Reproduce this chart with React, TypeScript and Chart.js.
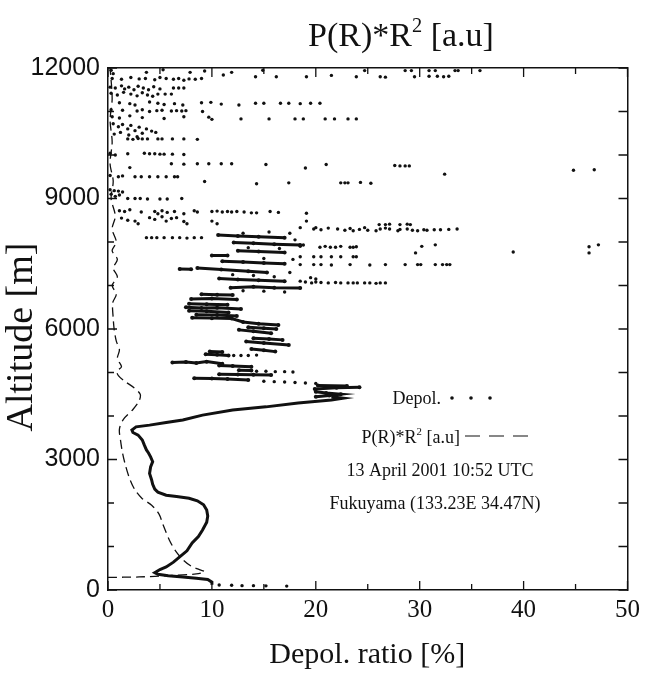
import React, { useEffect, useRef } from "react";
import { Chart, registerables } from "chart.js";

Chart.register(...registerables);

// ---------- data (x = depol ratio %, y = altitude m) ----------
const xTickValues = [0, 10, 20, 30, 40, 50];
const yTickValues = [0, 3000, 6000, 9000, 12000];

// continuous lower depol profile (traced in order)
const depolProfile: [number, number][] = [
  [10.0, 120], [10.0, 180], [9.6, 240], [8.5, 270], [7.2, 300], [5.8, 330], [4.8, 360], [4.5, 400],
  [5.0, 470], [5.6, 530], [6.3, 640], [6.9, 760], [7.6, 900], [8.1, 1080], [8.7, 1230], [9.1, 1380],
  [9.5, 1560], [9.6, 1700], [9.5, 1840], [9.2, 1960], [8.6, 2050], [7.8, 2110], [6.6, 2150], [5.6, 2180],
  [4.8, 2250], [4.5, 2320], [4.3, 2430], [4.2, 2530], [4.0, 2680], [4.1, 2830], [4.3, 2950], [4.1, 3060],
  [3.9, 3150], [3.7, 3220], [3.5, 3330], [3.3, 3450], [2.9, 3560], [2.4, 3620], [2.3, 3680], [2.7, 3750],
  [4.0, 3790], [5.6, 3850], [7.2, 3910], [9.1, 4020], [12.0, 4140], [15.2, 4210], [18.3, 4300],
  [21.5, 4370], [22.6, 4410], [21.5, 4440],
];

// short horizontal streaks of dense depol points (aerosol / cloud layers)
const depolStreaks: [number, number][][] = [
  [[20.0, 4440], [21.3, 4470], [22.4, 4500], [21.0, 4530], [20.0, 4560]],
  [[19.9, 4620], [22.0, 4650], [24.2, 4660]],
  [[20.2, 4700], [23.0, 4690]],
  [[8.3, 4870], [10.0, 4860], [11.5, 4850], [13.5, 4830]],
  [[10.7, 4960], [12.5, 4955], [14.0, 4950], [15.7, 4945]],
  [[12.6, 5050], [13.8, 5045]],
  [[10.7, 5160], [12.0, 5150], [13.8, 5130]],
  [[6.2, 5230], [7.5, 5240], [8.5, 5220], [9.5, 5250], [11.0, 5200]],
  [[9.4, 5420], [10.5, 5410], [11.6, 5390]],
  [[9.8, 5480], [11.0, 5470]],
  [[13.8, 5540], [15.0, 5510], [16.1, 5480]],
  [[13.3, 5710], [15.0, 5680], [17.4, 5630]],
  [[14.0, 5790], [15.5, 5770], [16.8, 5750]],
  [[12.6, 5980], [14.0, 5950], [15.7, 5900]],
  [[13.5, 6040], [15.0, 6020], [16.2, 6000]],
  [[8.1, 6260], [10.0, 6250], [11.9, 6240], [13.0, 6160], [14.5, 6120], [16.4, 6090]],
  [[8.5, 6330], [10.5, 6320], [12.4, 6300]],
  [[7.8, 6420], [9.5, 6410], [11.6, 6380]],
  [[7.5, 6500], [9.0, 6480], [10.5, 6490], [12.8, 6460]],
  [[7.8, 6580], [9.5, 6570], [11.5, 6560]],
  [[8.0, 6690], [10.0, 6700], [12.4, 6680]],
  [[9.0, 6800], [10.5, 6790], [12.0, 6780]],
  [[11.8, 6950], [14.0, 6970], [16.0, 6950], [18.5, 6940]],
  [[10.7, 7160], [12.5, 7140], [14.5, 7120], [17.0, 7100]],
  [[6.9, 7380], [8.0, 7375]],
  [[8.6, 7400], [10.9, 7370], [13.5, 7330], [15.3, 7300]],
  [[11.0, 7560], [13.0, 7540], [15.0, 7520], [17.0, 7500]],
  [[10.0, 7690], [11.5, 7690]],
  [[12.5, 7800], [14.5, 7780], [17.0, 7760]],
  [[12.1, 7990], [14.0, 7970], [16.0, 7950], [18.5, 7930]],
  [[10.6, 8160], [12.5, 8140], [14.5, 8120], [17.0, 8100]],
];

// isolated depol points
const depolDots: [number, number][] = [
  // near ground
  [10.7, 115], [11.9, 110], [12.9, 100], [14.0, 100], [15.2, 95], [17.2, 90],
  // trailing dots of lower layers
  [15.0, 4800], [16.0, 4790], [17.0, 4780], [18.0, 4770], [19.0, 4760], [20.0, 4750],
  [14.3, 5030], [15.2, 5030], [16.1, 5020], [17.0, 5020], [17.8, 5010],
  [12.1, 5390], [12.8, 5390], [13.5, 5390], [14.3, 5400],
  [13.0, 6880], [15.0, 6870], [17.0, 6850], [19.5, 7180], [20.0, 7150],
  [12.0, 7250], [14.0, 7230], [16.0, 7200], [17.5, 7300],
  [15.0, 7620], [17.8, 7600], [13.5, 7870], [16.5, 7850], [18.0, 8050],
  [13.0, 8200], [15.5, 8230], [17.5, 8200],
  // ~7000-7100
  [18.5, 7100], [19.0, 7080], [19.6, 7060], [20.0, 7080], [20.5, 7070], [21.2, 7060], [21.9, 7070],
  [22.4, 7060], [23.1, 7060], [23.6, 7060], [24.0, 7060], [24.7, 7060], [25.2, 7060], [25.8, 7050],
  [26.2, 7060], [26.7, 7060],
  // ~7480
  [18.5, 7480], [19.8, 7480], [20.5, 7480], [21.5, 7470], [23.3, 7480], [25.2, 7470], [26.7, 7480],
  [28.6, 7480], [29.8, 7480], [30.1, 7480], [31.5, 7480], [32.2, 7480], [32.6, 7480], [32.9, 7480],
  // ~7660
  [18.5, 7660], [19.8, 7660], [20.5, 7660], [21.5, 7660], [22.4, 7660], [23.6, 7660], [23.9, 7660],
  // ~7750-7930
  [18.5, 7900], [18.8, 7930], [20.4, 7880], [20.9, 7900], [21.4, 7880], [21.9, 7880], [22.4, 7900],
  [23.3, 7880], [23.6, 7880], [23.9, 7890], [29.6, 7750], [30.2, 7900], [31.5, 7935], [39.0, 7770],
  [46.3, 7890], [47.2, 7935], [46.3, 7750],
  // ~8100
  [3.7, 8100], [4.2, 8100], [4.7, 8100], [5.4, 8100], [6.2, 8100], [6.9, 8100], [7.6, 8090],
  [8.3, 8100], [9.0, 8100],
  // ~8300 (right)
  [18.5, 8330], [19.1, 8480], [19.8, 8300], [20.0, 8330], [20.5, 8280], [21.2, 8320], [22.1, 8300],
  [22.8, 8270], [23.3, 8310], [23.6, 8260], [24.2, 8290], [24.7, 8330], [25.0, 8270], [25.8, 8260],
  [26.2, 8300], [26.7, 8320], [27.1, 8300], [27.9, 8260], [28.1, 8290], [28.8, 8300], [29.3, 8270],
  [29.8, 8260], [30.4, 8280], [30.7, 8270], [31.4, 8280], [32.0, 8280], [32.8, 8290], [33.6, 8300],
  [26.1, 8400], [26.7, 8400], [27.1, 8410], [28.1, 8400], [28.8, 8410], [29.1, 8400],
  // ~8450 (left)
  [1.3, 8550], [1.9, 8500], [2.6, 8480], [2.9, 8420], [4.0, 8560], [4.5, 8520], [5.2, 8580],
  [5.6, 8480], [6.1, 8540], [6.6, 8560], [7.3, 8470], [7.6, 8420], [10.0, 8480], [10.5, 8420],
  // ~8700
  [1.1, 8720], [1.6, 8700], [2.1, 8740], [3.2, 8690], [4.5, 8700], [4.8, 8650], [5.2, 8720],
  [5.7, 8680], [6.4, 8700], [7.3, 8650], [8.3, 8720], [8.6, 8690], [10.0, 8700], [10.5, 8710],
  [11.0, 8690], [11.5, 8700], [11.9, 8690], [12.4, 8700], [13.1, 8690], [13.8, 8670], [14.3, 8670],
  [15.6, 8700], [16.4, 8680], [19.1, 8660],
  // ~9000
  [0.3, 9100], [0.7, 9050], [1.1, 9080], [1.9, 9000], [2.6, 9000], [3.1, 9000], [3.8, 8990],
  [5.0, 8990], [5.7, 8990], [7.1, 9000],
  // ~9180
  [0.2, 9200], [0.6, 9180], [1.0, 9170], [1.4, 9150],
  // ~9370
  [9.3, 9390], [14.3, 9340], [17.4, 9360], [22.4, 9360], [22.8, 9360], [23.1, 9360], [24.3, 9370],
  [25.3, 9350],
  // ~9520
  [0.2, 9530], [1.0, 9500], [1.4, 9520], [2.6, 9500], [3.2, 9500], [4.0, 9500], [4.8, 9500],
  [5.6, 9500], [6.4, 9500], [6.7, 9500],
  // ~9800
  [2.1, 9710], [6.1, 9800], [7.3, 9790], [8.6, 9800], [9.7, 9800], [10.9, 9800], [11.9, 9800],
  [15.2, 9780], [19.0, 9700], [21.0, 9780], [27.6, 9760], [28.1, 9750], [28.6, 9750], [29.0, 9750],
  [32.4, 9560], [44.8, 9650], [46.8, 9660],
  // ~10030
  [0.2, 10040], [0.7, 10000], [1.9, 10030], [3.5, 10040], [4.0, 10030], [4.5, 10030], [5.0, 10020],
  [5.4, 10020], [6.2, 10020], [7.3, 10010],
  // ~10370
  [1.9, 10370], [2.4, 10360], [2.9, 10380], [3.3, 10370], [3.8, 10370], [4.8, 10370], [5.2, 10370],
  [6.2, 10370], [7.3, 10370], [8.6, 10360],
  // cluster 10450-10750
  [0.5, 10720], [1.0, 10650], [1.4, 10700], [1.9, 10600], [2.2, 10680], [2.6, 10560], [3.0, 10640],
  [3.3, 10500], [3.7, 10600], [4.2, 10550], [4.6, 10520], [1.2, 10520], [0.6, 10480], [2.0, 10460],
  [2.8, 10420],
  // ~10850
  [0.4, 10880], [1.1, 10850], [2.1, 10900], [3.3, 10860], [5.4, 10840], [7.3, 10880], [9.7, 10870],
  [10.0, 10820], [12.8, 10830], [15.5, 10830], [18.0, 10830], [18.8, 10830], [20.9, 10830],
  [21.8, 10830], [23.1, 10830], [23.9, 10830],
  // ~11020
  [0.3, 11040], [1.4, 11030], [2.8, 11010], [3.3, 11040], [4.0, 11000], [4.7, 11020], [5.2, 11030],
  [6.1, 11010], [6.6, 11020], [7.1, 11010], [7.5, 11020], [9.1, 11000],
  // ~11180
  [1.1, 11200], [2.1, 11180], [2.6, 11150], [4.0, 11220], [4.8, 11190], [5.4, 11160], [6.4, 11180],
  [7.2, 11150], [9.0, 11200], [9.9, 11210], [10.9, 11170], [12.6, 11150], [14.2, 11190], [15.0, 11190],
  [16.6, 11190], [17.4, 11190], [18.5, 11180], [19.5, 11190], [20.4, 11190],
  // ~11400
  [0.3, 11420], [0.9, 11380], [1.5, 11440], [2.2, 11400], [2.8, 11360], [3.3, 11430], [3.8, 11380],
  [4.3, 11350], [4.8, 11400], [5.5, 11400], [6.1, 11400],
  // ~11550
  [0.2, 11560], [0.7, 11540], [1.3, 11590], [1.6, 11520], [2.0, 11560], [2.5, 11500], [2.9, 11580],
  [3.4, 11540], [3.9, 11500], [4.4, 11570], [5.0, 11520], [6.3, 11540], [6.8, 11540], [7.3, 11540],
  // ~11750
  [0.4, 11760], [1.3, 11740], [2.2, 11780], [3.0, 11750], [3.6, 11760], [4.5, 11730], [5.0, 11780],
  [5.6, 11760], [6.3, 11740], [6.8, 11760], [7.3, 11720], [7.8, 11750], [8.4, 11740], [9.0, 11760],
  // ~11900
  [0.3, 11950], [0.5, 11870], [3.7, 11900], [5.3, 11960], [7.9, 11900], [9.3, 11930], [11.1, 11840],
  [11.9, 11900], [14.2, 11800], [14.9, 11950], [16.2, 11800], [19.1, 11800], [21.5, 11830],
  [23.9, 11800], [24.7, 11940], [26.2, 11800], [26.7, 11790], [28.6, 11940], [29.2, 11940],
  [29.5, 11800], [30.9, 11940], [31.5, 11940], [30.9, 11810], [31.7, 11810], [32.3, 11800],
  [32.8, 11810], [33.4, 11940], [33.7, 11940], [35.8, 11940],
];

// range-corrected signal P(R)*R^2 (arbitrary units on the top axis)
const backscatter: [number, number][] = [
  [0, 290], [3, 300], [6, 330], [8.5, 370], [9.3, 420], [8.8, 470], [8.0, 550], [7.2, 700],
  [6.5, 900], [5.9, 1150], [5.3, 1500], [4.9, 1750], [4.2, 1950], [3.3, 2100], [2.6, 2300],
  [2.1, 2550], [1.7, 2850], [1.4, 3150], [1.2, 3450], [1.1, 3700], [1.5, 3930], [2.4, 4150],
  [3.0, 4350], [3.1, 4500], [2.5, 4650], [1.6, 4800], [1.0, 4930], [0.85, 5030], [1.3, 5130],
  [0.9, 5320], [1.1, 5520], [0.8, 5720], [0.6, 5980], [0.5, 6250], [0.45, 6600], [0.8, 6800],
  [0.4, 7000], [0.9, 7200], [0.5, 7400], [0.9, 7600], [0.4, 7800], [0.8, 8000], [0.4, 8300],
  [0.7, 8600], [0.3, 9000], [0.5, 9400], [0.2, 9800], [0.4, 10300], [0.2, 10800], [0.4, 11300],
  [0.2, 12000],
];

const SERIF = "'Liberation Serif', 'Times New Roman', serif";
const SANS = "'Liberation Sans', Arial, sans-serif";
const INK = "#111";

const toXY = (pts: [number, number][]) => pts.map(([x, y]) => ({ x, y }));

const overlayPlugin = {
  id: "overlay",
  afterDraw(chart: any) {
    const { ctx, scales } = chart;
    const x = scales.x, y = scales.y, x2 = scales.x2;
    const L = x.left, R = x.right, T = y.top, B = y.bottom;
    ctx.save();
    ctx.strokeStyle = INK;
    ctx.lineWidth = 1.3;
    ctx.beginPath();
    // inward ticks: bottom & top
    for (let v = 0; v <= 50; v += 5) {
      const len = v % 10 === 0 ? 9 : 6;
      const px = x.getPixelForValue(v);
      ctx.moveTo(px, B); ctx.lineTo(px, B - len);
      const px2 = x2.getPixelForValue(v);
      ctx.moveTo(px2, T); ctx.lineTo(px2, T + len);
    }
    // inward ticks: left & right
    for (let v = 0; v <= 12000; v += 1000) {
      const py = y.getPixelForValue(v);
      const len = v % 3000 === 0 ? 9 : 6;
      ctx.moveTo(L, py); ctx.lineTo(L + len, py);
      ctx.moveTo(R, py); ctx.lineTo(R - 9, py);
    }
    ctx.stroke();

    ctx.fillStyle = INK;
    const drawSup = (parts: [string, boolean][], cx: number, cy: number, size: number, align: string) => {
      let total = 0;
      const widths = parts.map(([t, sup]) => {
        ctx.font = `${sup ? size * 0.6 : size}px ${SERIF}`;
        const w = ctx.measureText(t).width;
        total += w;
        return w;
      });
      let sx = align === "center" ? cx - total / 2 : align === "right" ? cx - total : cx;
      ctx.textAlign = "left";
      ctx.textBaseline = "alphabetic";
      parts.forEach(([t, sup], i) => {
        ctx.font = `${sup ? size * 0.6 : size}px ${SERIF}`;
        ctx.fillText(t, sx, sup ? cy - size * 0.42 : cy);
        sx += widths[i];
      });
      return sx;
    };
    // top axis title
    drawSup([["P(R)*R", false], ["2", true], [" [a.u]", false]], 401, 46, 34, "center");

    // x title
    ctx.font = `30px ${SERIF}`;
    ctx.textAlign = "center";
    ctx.textBaseline = "middle";
    ctx.fillText("Depol. ratio [%]", (L + R) / 2 - 0.5, 655);

    // y title
    ctx.save();
    ctx.translate(22, 337);
    ctx.rotate(-Math.PI / 2);
    ctx.font = `38px ${SERIF}`;
    ctx.textAlign = "center";
    ctx.textBaseline = "middle";
    ctx.fillText("Altitude [m]", 0, 0);
    ctx.restore();

    // legend inside plot
    ctx.font = `18px ${SERIF}`;
    ctx.textAlign = "right";
    ctx.textBaseline = "alphabetic";
    ctx.fillText("Depol.", 441, 404);
    [452, 471, 490].forEach((cx) => {
      ctx.beginPath();
      ctx.arc(cx, 398, 1.8, 0, Math.PI * 2);
      ctx.fill();
    });
    drawSup([["P(R)*R", false], ["2", true], [" [a.u]", false]], 460, 443, 18, "right");
    ctx.beginPath();
    ctx.lineWidth = 1.2;
    [[465, 480], [489, 504], [513, 528]].forEach(([a, b]) => {
      ctx.moveTo(a, 436); ctx.lineTo(b, 436);
    });
    ctx.stroke();
    ctx.font = `18px ${SERIF}`;
    ctx.textAlign = "center";
    ctx.fillText("13 April 2001 10:52 UTC", 440, 476);
    ctx.fillText("Fukuyama (133.23E 34.47N)", 435, 509);
    ctx.restore();
  },
};

export default function App() {
  const canvasRef = useRef<HTMLCanvasElement | null>(null);

  useEffect(() => {
    document.body.style.margin = "0";
    const canvas = canvasRef.current;
    if (!canvas) return;

    const datasets: any[] = [
      {
        label: "Depol. profile",
        data: toXY(depolProfile),
        showLine: true,
        borderColor: INK,
        borderWidth: 3,
        pointRadius: 0,
        tension: 0,
      },
      ...depolStreaks.map((s, i) => ({
        label: `Depol. layer ${i + 1}`,
        data: toXY(s),
        showLine: true,
        borderColor: INK,
        backgroundColor: INK,
        borderWidth: 3,
        pointRadius: 2,
        pointBorderWidth: 0,
      })),
      {
        label: "Depol.",
        data: toXY(depolDots),
        showLine: false,
        backgroundColor: INK,
        borderWidth: 0,
        pointRadius: 1.7,
      },
      {
        label: "P(R)*R2 [a.u]",
        data: toXY(backscatter),
        xAxisID: "x2",
        showLine: true,
        borderColor: INK,
        borderWidth: 1.3,
        borderDash: [9, 5],
        pointRadius: 0,
        tension: 0.3,
      },
    ];

    const chart = new Chart(canvas, {
      type: "scatter",
      data: { datasets },
      plugins: [overlayPlugin],
      options: {
        animation: false,
        responsive: false,
        layout: { padding: 0 },
        plugins: { legend: { display: false }, tooltip: { enabled: false }, title: { display: false } },
        scales: {
          x: {
            type: "linear",
            position: "bottom",
            min: 0,
            max: 50,
            afterBuildTicks: (s: any) => { s.ticks = xTickValues.map((v) => ({ value: v })); },
            afterFit: (s: any) => { s.height = 88; },
            ticks: {
              color: INK, font: { family: SERIF, size: 25 }, padding: 5, maxRotation: 0, autoSkip: false,
              callback: (v: any) => String(v),
            },
            grid: { display: false, drawTicks: false },
            border: { display: true, color: INK, width: 1.5 },
          },
          x2: {
            type: "linear",
            position: "top",
            min: 0,
            max: 50,
            afterFit: (s: any) => { s.height = 68; },
            ticks: { display: false },
            grid: { display: false, drawTicks: false },
            border: { display: true, color: INK, width: 1.5 },
          },
          y: {
            type: "linear",
            position: "left",
            min: 0,
            max: 12000,
            afterBuildTicks: (s: any) => { s.ticks = yTickValues.map((v) => ({ value: v })); },
            afterFit: (s: any) => { s.width = 108; },
            ticks: {
              color: INK, font: { family: SANS, size: 25 }, padding: 8, autoSkip: false,
              callback: (v: any) => String(v),
            },
            grid: { display: false, drawTicks: false },
            border: { display: true, color: INK, width: 1.5 },
          },
          y2: {
            type: "linear",
            position: "right",
            min: 0,
            max: 12000,
            afterFit: (s: any) => { s.width = 13; },
            ticks: { display: false },
            grid: { display: false, drawTicks: false },
            border: { display: true, color: INK, width: 1.5 },
          },
        },
      } as any,
    });
    return () => chart.destroy();
  }, []);

  return (
    <div style={{ width: 645, height: 678, background: "#fff" }}>
      <canvas ref={canvasRef} width={645} height={678} />
    </div>
  );
}
